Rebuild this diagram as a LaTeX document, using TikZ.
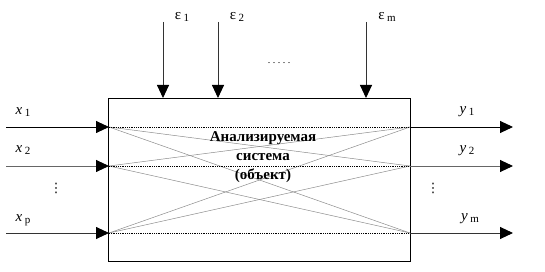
\documentclass[tikz,border=0pt]{standalone}
\usepackage{fontspec}
\setmainfont{Liberation Serif}
\newfontfamily\symfont{DejaVu Sans}
\usetikzlibrary{arrows.meta}
\tikzset{
  sig/.style={line width=0.9pt, -{Triangle[length=13pt,width=12pt,color=black]}},
  sigg/.style={sig, draw=black!60},
  diag/.style={line width=0.5pt, draw=black!45},
  selfln/.style={line width=0.8pt, densely dotted},
  lbl/.style={inner sep=0pt, font=\fontsize{15pt}{17pt}\selectfont},
  vdotlbl/.style={inner sep=0pt, font=\symfont\fontsize{13pt}{13pt}\selectfont},
  sysbox/.style={draw, line width=0.9pt, minimum width=302pt, minimum height=163pt, inner sep=0pt},
  ctext/.style={align=center, inner sep=0pt, font=\fontsize{15pt}{19pt}\selectfont\bfseries}
}
\newcommand{\lab}[2]{#1\kern2.5pt\raisebox{-1.5pt}{\fontsize{11pt}{12pt}\selectfont #2}}
\begin{document}
\begin{tikzpicture}[x=1pt,y=-1pt]
\useasboundingbox (0,0) rectangle (545,272);
\node[sysbox] (box) at (259.5,179.5) {};
% ports on box
\coordinate (i1) at (109,127);
\coordinate (i2) at (109,166);
\coordinate (ip) at (109,233);
\coordinate (o1) at (410,127);
\coordinate (o2) at (410,166);
\coordinate (om) at (410,233);
% free ends
\coordinate (s1) at (6,127);
\coordinate (s2) at (6,166);
\coordinate (sp) at (6,233);
\coordinate (e1) at (513,127);
\coordinate (e2) at (513,166);
\coordinate (em) at (513,233);
\coordinate (t1) at (163,22);
\coordinate (t2) at (218,22);
\coordinate (tm) at (366,22);
\coordinate (b1) at (163,98);
\coordinate (b2) at (218,98);
\coordinate (bm) at (366,98);
% internal links
\draw[diag] (i1) -- (o2);
\draw[diag] (i1) -- (om);
\draw[diag] (i2) -- (o1);
\draw[diag] (i2) -- (om);
\draw[diag] (ip) -- (o1);
\draw[diag] (ip) -- (o2);
\draw[selfln] (i1) -- (o1);
\draw[selfln] (i2) -- (o2);
\draw[selfln] (ip) -- (om);
% arrows
\draw[sig] (s1) -- (i1);
\draw[sigg] (s2) -- (i2);
\draw[sig, draw=black!80] (sp) -- (ip);
\draw[sig] (o1) -- (e1);
\draw[sigg] (o2) -- (e2);
\draw[sig, draw=black!80] (om) -- (em);
\draw[sig, draw=black!80] (t1) -- (b1);
\draw[sig, draw=black!80] (t2) -- (b2);
\draw[sig, draw=black!80] (tm) -- (bm);
% center text
\node[ctext] (txt) at (263,157) {Анализируемая\\система\\(объект)};
% labels
\node[lbl] (lx1) at (23,112) {\lab{\textit{x}}{1}};
\node[lbl] (lx2) at (23,150) {\lab{\textit{x}}{2}};
\node[lbl] (lxp) at (23,220) {\lab{\textit{x}}{p}};
\node[lbl] (ly1) at (467,112) {\lab{\textit{y}}{1}};
\node[lbl] (ly2) at (467,151) {\lab{\textit{y}}{2}};
\node[lbl] (lym) at (470,219) {\lab{\textit{y}}{m}};
\node[lbl] (le1) at (182,17) {\lab{ε}{1}};
\node[lbl] (le2) at (237,17) {\lab{ε}{2}};
\node[lbl] (lem) at (387,17) {\lab{ε}{m}};
\node[lbl, font=\fontsize{10pt}{10pt}\selectfont] (hd) at (279,63) {.\kern2.5pt.\kern2.5pt.\kern2.5pt.\kern2.5pt.};
\node[vdotlbl] (vl) at (56,188) {⋮};
\node[vdotlbl] (vr) at (433,188) {⋮};
\end{tikzpicture}
\end{document}
